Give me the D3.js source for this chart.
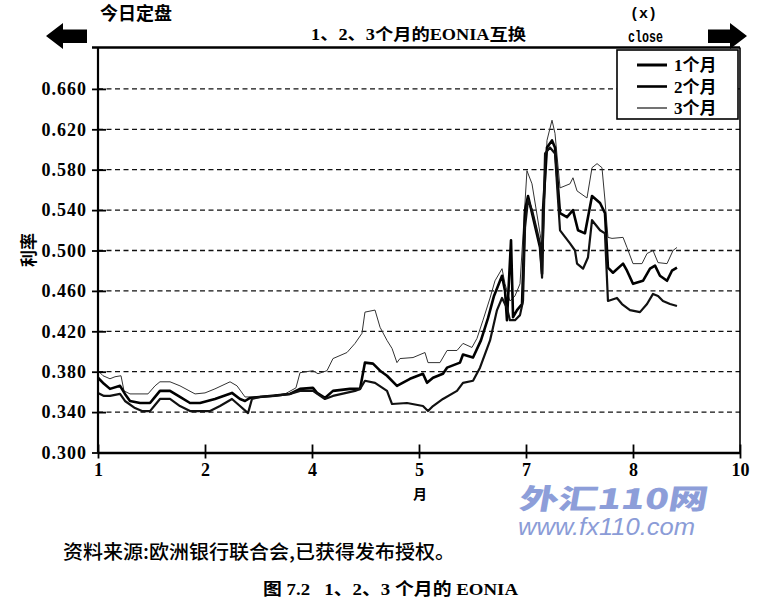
<!DOCTYPE html>
<html>
<head>
<meta charset="utf-8">
<script src="https://cdn.jsdelivr.net/npm/d3@7"></script>
<style>
  html, body { margin: 0; padding: 0; background: #fff; }
  svg { display: block; }
</style>
</head>
<body>
<svg id="chart"></svg>
<script>
// tick labels on the month axis are evenly spaced in the source
const xTickLabels = ['1', '2', '4', '5', '7', '8', '10'];
const yTicks = [0.30, 0.34, 0.38, 0.42, 0.46, 0.50, 0.54, 0.58, 0.62, 0.66];
const seriesNames = ['1个月', '2个月', '3个月'];

// [axis position, rate]
const m1 = [
  [0, 0.359], [0.056, 0.356], [0.112, 0.356], [0.206, 0.358], [0.252, 0.351], [0.346, 0.344],
  [0.411, 0.341], [0.486, 0.341], [0.533, 0.347], [0.579, 0.353], [0.673, 0.353], [0.766, 0.346],
  [0.860, 0.341], [0.953, 0.341], [1.047, 0.341], [1.140, 0.346], [1.252, 0.353], [1.327, 0.346],
  [1.402, 0.339], [1.439, 0.353], [1.514, 0.355], [1.654, 0.356], [1.794, 0.358], [1.888, 0.361],
  [2.009, 0.361], [2.121, 0.353], [2.196, 0.356], [2.402, 0.361], [2.449, 0.363], [2.495, 0.371],
  [2.589, 0.369], [2.701, 0.361], [2.748, 0.348], [2.888, 0.349], [3.037, 0.346], [3.084, 0.341],
  [3.131, 0.346], [3.224, 0.353], [3.355, 0.361], [3.411, 0.369], [3.505, 0.371], [3.570, 0.384],
  [3.664, 0.411], [3.729, 0.441], [3.776, 0.453], [3.822, 0.443], [3.850, 0.431], [3.897, 0.431],
  [3.944, 0.436], [3.972, 0.450], [3.991, 0.523], [4.019, 0.550], [4.056, 0.540], [4.131, 0.507],
  [4.150, 0.473], [4.178, 0.596], [4.224, 0.602], [4.271, 0.596], [4.318, 0.520], [4.411, 0.507],
  [4.458, 0.500], [4.477, 0.487], [4.533, 0.482], [4.579, 0.493], [4.617, 0.530], [4.692, 0.520],
  [4.738, 0.517], [4.766, 0.450], [4.850, 0.453], [4.897, 0.447], [4.972, 0.441], [5.065, 0.439],
  [5.131, 0.447], [5.187, 0.457], [5.234, 0.455], [5.280, 0.450], [5.346, 0.447], [5.411, 0.445]
];
const m2 = [
  [0, 0.374], [0.056, 0.368], [0.112, 0.363], [0.206, 0.366], [0.252, 0.358], [0.299, 0.351],
  [0.393, 0.349], [0.486, 0.349], [0.533, 0.355], [0.579, 0.361], [0.673, 0.361], [0.766, 0.355],
  [0.860, 0.349], [0.953, 0.349], [1.093, 0.353], [1.252, 0.359], [1.327, 0.353], [1.374, 0.351],
  [1.421, 0.354], [1.607, 0.356], [1.794, 0.358], [1.888, 0.363], [2.009, 0.364], [2.047, 0.359],
  [2.121, 0.354], [2.196, 0.361], [2.355, 0.363], [2.449, 0.363], [2.495, 0.389], [2.570, 0.388],
  [2.636, 0.381], [2.701, 0.376], [2.794, 0.366], [2.916, 0.373], [3.037, 0.378], [3.075, 0.369],
  [3.131, 0.374], [3.224, 0.378], [3.262, 0.384], [3.383, 0.389], [3.411, 0.397], [3.505, 0.394],
  [3.579, 0.411], [3.645, 0.433], [3.701, 0.455], [3.776, 0.475], [3.804, 0.460], [3.822, 0.431],
  [3.860, 0.510], [3.879, 0.434], [3.916, 0.441], [3.963, 0.447], [3.991, 0.540], [4.019, 0.554],
  [4.065, 0.533], [4.131, 0.503], [4.150, 0.477], [4.159, 0.540], [4.196, 0.602], [4.243, 0.609],
  [4.271, 0.602], [4.318, 0.537], [4.383, 0.533], [4.439, 0.540], [4.486, 0.520], [4.551, 0.517],
  [4.617, 0.554], [4.692, 0.547], [4.738, 0.537], [4.766, 0.483], [4.813, 0.478], [4.907, 0.487],
  [4.944, 0.480], [5.000, 0.467], [5.093, 0.470], [5.159, 0.482], [5.206, 0.485], [5.252, 0.475],
  [5.318, 0.470], [5.364, 0.480], [5.411, 0.483]
];
const m3 = [
  [0, 0.381], [0.047, 0.376], [0.112, 0.373], [0.159, 0.375], [0.215, 0.376], [0.243, 0.361],
  [0.299, 0.358], [0.467, 0.358], [0.533, 0.366], [0.579, 0.370], [0.673, 0.370], [0.766, 0.366],
  [0.907, 0.358], [1.000, 0.359], [1.093, 0.363], [1.234, 0.370], [1.299, 0.366], [1.374, 0.355],
  [1.467, 0.355], [1.607, 0.356], [1.748, 0.358], [1.850, 0.364], [1.888, 0.379], [2.009, 0.381],
  [2.056, 0.378], [2.140, 0.381], [2.196, 0.393], [2.327, 0.399], [2.402, 0.408], [2.467, 0.418],
  [2.495, 0.439], [2.589, 0.441], [2.636, 0.424], [2.701, 0.411], [2.748, 0.403], [2.794, 0.389],
  [2.822, 0.393], [2.944, 0.394], [3.056, 0.399], [3.084, 0.389], [3.196, 0.389], [3.262, 0.401],
  [3.355, 0.401], [3.411, 0.408], [3.495, 0.404], [3.542, 0.413], [3.598, 0.431], [3.664, 0.453],
  [3.710, 0.470], [3.776, 0.482], [3.804, 0.467], [3.850, 0.450], [3.897, 0.455], [3.944, 0.467],
  [4.009, 0.579], [4.056, 0.566], [4.131, 0.517], [4.159, 0.497], [4.196, 0.609], [4.243, 0.629],
  [4.271, 0.616], [4.318, 0.562], [4.411, 0.566], [4.439, 0.572], [4.477, 0.559], [4.570, 0.552],
  [4.617, 0.582], [4.664, 0.586], [4.710, 0.582], [4.738, 0.550], [4.766, 0.513], [4.804, 0.512],
  [4.907, 0.513], [4.944, 0.503], [5.000, 0.487], [5.084, 0.487], [5.131, 0.497], [5.187, 0.500],
  [5.234, 0.488], [5.318, 0.487], [5.374, 0.500], [5.411, 0.503]
];

(function(){
  const W = 759, H = 600;
  const plot = {left: 98, right: 740, top: 48.5, bottom: 452.5};
  const CJK = "'Noto Sans CJK SC', sans-serif";
  const SERIF = "'Liberation Serif', 'Noto Sans CJK SC', serif";

  const svg = d3.select('#chart').attr('width', W).attr('height', H)
    .attr('viewBox', `0 0 ${W} ${H}`);
  svg.append('rect').attr('width', W).attr('height', H).attr('fill', '#fff');

  const x = d3.scaleLinear().domain([0, xTickLabels.length - 1]).range([plot.left, plot.right]);
  const y = d3.scaleLinear().domain([0.3, 0.7]).range([plot.bottom, plot.top]);

  // --- grid ------------------------------------------------------------------
  svg.append('g').selectAll('line')
    .data(yTicks.filter(v => v > 0.3))
    .join('line')
    .attr('x1', plot.left).attr('x2', plot.right)
    .attr('y1', d => y(d)).attr('y2', d => y(d))
    .attr('stroke', '#111').attr('stroke-width', 1.3)
    .attr('stroke-dasharray', '5,3.5');

  // --- frame -----------------------------------------------------------------
  svg.append('line')
    .attr('x1', plot.left - 6).attr('x2', plot.right)
    .attr('y1', plot.top - 1).attr('y2', plot.top - 1)
    .attr('stroke', '#000').attr('stroke-width', 2.6);
  svg.append('line')
    .attr('x1', plot.right).attr('x2', plot.right)
    .attr('y1', plot.top - 1).attr('y2', plot.bottom)
    .attr('stroke', '#000').attr('stroke-width', 1.6);

  // --- series ----------------------------------------------------------------
  const series = [
    {name: seriesNames[0], values: m1, width: 2.2, color: '#111'},
    {name: seriesNames[1], values: m2, width: 2.6, color: '#000'},
    {name: seriesNames[2], values: m3, width: 1.0, color: '#333'}
  ];
  const line = d3.line().x(d => x(d[0])).y(d => y(d[1]));
  svg.append('g').selectAll('path')
    .data(series.slice().reverse())
    .join('path')
    .attr('d', d => line(d.values))
    .attr('fill', 'none')
    .attr('stroke', d => d.color)
    .attr('stroke-width', d => d.width)
    .attr('stroke-linejoin', 'round');

  // --- axes ------------------------------------------------------------------
  const yAxis = svg.append('g')
    .attr('transform', `translate(${plot.left},0)`)
    .call(d3.axisLeft(y).tickValues(yTicks).tickFormat(d3.format('.3f')).tickSize(6).tickSizeOuter(0).tickPadding(5));
  yAxis.select('.domain').attr('stroke-width', 2.2)
    .attr('d', `M0,${plot.top - 1}V${plot.bottom}`);
  yAxis.selectAll('.tick line').attr('x1', 8).attr('stroke-width', 1.8);
  yAxis.selectAll('.tick text')
    .attr('font-family', SERIF).attr('font-weight', 'bold').attr('font-size', 18)
    .attr('letter-spacing', 1).attr('fill', '#000');

  const xAxis = svg.append('g')
    .attr('transform', `translate(0,${plot.bottom})`)
    .call(d3.axisBottom(x).tickValues(d3.range(xTickLabels.length))
      .tickFormat(i => xTickLabels[i]).tickSize(6).tickSizeOuter(0).tickPadding(5));
  xAxis.select('.domain').attr('stroke-width', 2.6);
  xAxis.selectAll('.tick line').attr('y1', -8).attr('stroke-width', 1.8);
  xAxis.selectAll('.tick text')
    .attr('font-family', SERIF).attr('font-weight', 'bold').attr('font-size', 18)
    .attr('fill', '#000');

  svg.append('text')
    .attr('transform', 'translate(27,250) rotate(-90)')
    .attr('text-anchor', 'middle').attr('dominant-baseline', 'central')
    .attr('font-family', CJK).attr('font-weight', 'bold').attr('font-size', 17)
    .text('利率');
  svg.append('text')
    .attr('x', 420).attr('y', 499).attr('text-anchor', 'middle')
    .attr('font-family', CJK).attr('font-weight', 'bold').attr('font-size', 14)
    .text('月');

  // --- legend ----------------------------------------------------------------
  const lg = svg.append('g');
  lg.append('rect')
    .attr('x', 617).attr('y', 50).attr('width', 121).attr('height', 69)
    .attr('fill', '#fff').attr('stroke', '#000').attr('stroke-width', 1.6);
  const item = lg.selectAll('g.item')
    .data(series)
    .join('g').attr('class', 'item')
    .attr('transform', (d, i) => `translate(0,${65 + i * 21.5})`);
  item.append('line')
    .attr('x1', 637).attr('x2', 667)
    .attr('stroke', '#000').attr('stroke-width', (d, i) => [3, 2.6, 1.1][i]);
  item.append('text')
    .attr('x', 674).attr('y', 6)
    .attr('font-family', SERIF).attr('font-weight', 'bold').attr('font-size', 17)
    .text(d => d.name);

  // --- header ----------------------------------------------------------------
  svg.append('text')
    .attr('x', 100).attr('y', 20)
    .attr('font-family', CJK).attr('font-weight', 'bold').attr('font-size', 18)
    .text('今日定盘');
  svg.append('text')
    .attr('x', 311).attr('y', 40)
    .attr('textLength', 215).attr('lengthAdjust', 'spacingAndGlyphs')
    .attr('font-family', SERIF).attr('font-weight', 'bold').attr('font-size', 16)
    .text('1、2、3个月的EONIA互换');
  svg.append('text')
    .attr('x', 630).attr('y', 18)
    .attr('font-family', "'Liberation Mono', monospace").attr('font-weight', 'bold').attr('font-size', 15)
    .text('(x)');
  svg.append('text')
    .attr('x', 628).attr('y', 42)
    .attr('textLength', 35).attr('lengthAdjust', 'spacingAndGlyphs')
    .attr('font-family', "'Liberation Mono', monospace").attr('font-weight', 'bold').attr('font-size', 16)
    .text('close');

  // arrows
  const arrow = (tipX, backX, endX) => {
    const p = d3.path();
    p.moveTo(tipX, 36);
    p.lineTo(backX, 23); p.lineTo(backX, 29.5);
    p.lineTo(endX, 29.5); p.lineTo(endX, 43);
    p.lineTo(backX, 43); p.lineTo(backX, 49);
    p.closePath();
    return p.toString();
  };
  svg.append('path').attr('d', arrow(46, 63, 87)).attr('fill', '#000');
  svg.append('path').attr('d', arrow(747, 730, 708)).attr('fill', '#000');

  // --- footer ----------------------------------------------------------------
  svg.append('text')
    .attr('x', 518).attr('y', 509)
    .attr('textLength', 188).attr('lengthAdjust', 'spacingAndGlyphs')
    .attr('transform', 'skewX(-10) translate(90,0)')
    .attr('font-family', CJK).attr('font-weight', 900).attr('font-size', 28)
    .attr('fill', '#8d9ed9')
    .text('外汇110网');
  svg.append('text')
    .attr('x', 518).attr('y', 535)
    .attr('textLength', 177).attr('lengthAdjust', 'spacingAndGlyphs')
    .attr('font-family', "'Liberation Sans', Arial, sans-serif").attr('font-style', 'italic').attr('font-size', 24)
    .attr('fill', '#8b9cd7')
    .text('www.fx110.com');

  svg.append('text')
    .attr('x', 63).attr('y', 559)
    .attr('textLength', 392).attr('lengthAdjust', 'spacingAndGlyphs')
    .attr('font-family', CJK).attr('font-weight', 500).attr('font-size', 19)
    .text('资料来源:欧洲银行联合会,已获得发布授权。');
  svg.append('text')
    .attr('x', 263).attr('y', 595)
    .attr('textLength', 255).attr('lengthAdjust', 'spacingAndGlyphs')
    .style('white-space', 'pre')
    .attr('font-family', SERIF).attr('font-weight', 'bold').attr('font-size', 17)
    .text('图 7.2   1、2、3 个月的 EONIA');
})();
</script>
</body>
</html>
